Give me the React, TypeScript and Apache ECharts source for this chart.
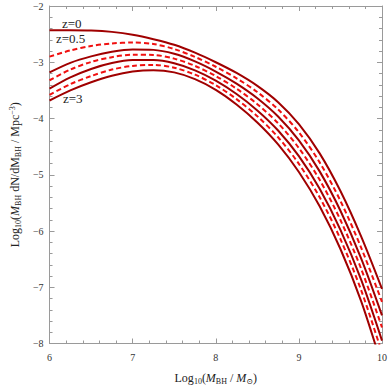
import React, { useEffect, useRef } from "react";
import * as echarts from "echarts";

const xs = [6, 6.25, 6.5, 6.75, 7, 7.25, 7.5, 7.75, 8, 8.25, 8.5, 8.75, 9, 9.25, 9.5, 9.75, 10];

const z0 = [-2.43, -2.43, -2.435, -2.46, -2.51, -2.59, -2.69, -2.83, -3.0, -3.19, -3.42, -3.71, -4.1, -4.62, -5.29, -6.1, -7.03];
const z05 = [-2.9, -2.79, -2.71, -2.665, -2.65, -2.675, -2.765, -2.905, -3.08, -3.285, -3.53, -3.84, -4.245, -4.78, -5.465, -6.3, -7.26];
const z1 = [-3.18, -3.01, -2.895, -2.815, -2.775, -2.78, -2.85, -2.985, -3.165, -3.38, -3.64, -3.965, -4.39, -4.94, -5.64, -6.49, -7.5];
const z15 = [-3.32, -3.13, -2.995, -2.91, -2.865, -2.87, -2.935, -3.065, -3.245, -3.47, -3.745, -4.085, -4.525, -5.09, -5.805, -6.675, -7.715];
const z2 = [-3.47, -3.27, -3.12, -3.015, -2.962, -2.96, -3.018, -3.145, -3.328, -3.565, -3.856, -4.213, -4.67, -5.25, -5.98, -6.87, -7.948];
const z25 = [-3.58, -3.39, -3.245, -3.13, -3.065, -3.047, -3.097, -3.22, -3.407, -3.655, -3.96, -4.333, -4.806, -5.4, -6.145, -7.055, -8.167];
const z3 = [-3.68, -3.5, -3.355, -3.24, -3.165, -3.14, -3.18, -3.3, -3.49, -3.75, -4.07, -4.46, -4.95, -5.56, -6.32, -7.25, -8.4];

const curves = [
  { name: "z=0", ys: z0, dashed: false },
  { name: "z=0.5", ys: z05, dashed: true },
  { name: "z=1", ys: z1, dashed: false },
  { name: "z=1.5", ys: z15, dashed: true },
  { name: "z=2", ys: z2, dashed: false },
  { name: "z=2.5", ys: z25, dashed: true },
  { name: "z=3", ys: z3, dashed: false },
];

const xTicks = [6, 7, 8, 9, 10];
const yTicks = [-8, -7, -6, -5, -4, -3, -2];

const SERIF = "'Liberation Serif', 'DejaVu Serif', serif";
const AXIS_GRAY = "#9a9a9a";

const richStyles = {
  n: { fontFamily: SERIF, fontSize: 12, color: "#222", lineHeight: 17, verticalAlign: "middle" },
  i: { fontFamily: SERIF, fontSize: 12, color: "#222", fontStyle: "italic", lineHeight: 17, verticalAlign: "middle" },
  s: { fontFamily: SERIF, fontSize: 8, color: "#222", padding: [6, 0, 0, 0], verticalAlign: "middle" },
  p: { fontFamily: SERIF, fontSize: 8, color: "#222", padding: [0, 0, 6, 0], verticalAlign: "middle" },
};

const fmt = (v: number) => String(v).replace("-", "\u2212");

export default function App() {
  const ref = useRef<HTMLDivElement>(null);
  useEffect(() => {
    if (!ref.current) return;
    const chart = echarts.init(ref.current, undefined, { renderer: "svg" });
    const axisCommon = {
      type: "value" as const,
      axisLine: { show: true, lineStyle: { color: AXIS_GRAY, width: 1 } },
      axisTick: { show: true, inside: true, length: 5, lineStyle: { color: AXIS_GRAY } },
      minorTick: { show: true, splitNumber: 5, length: 3, lineStyle: { color: AXIS_GRAY } },
      splitLine: { show: false },
    };
    chart.setOption({
      animation: false,
      backgroundColor: "#ffffff",
      grid: { left: 38, right: 7, top: 6, bottom: 39 },
      xAxis: [
        {
          ...axisCommon,
          position: "bottom",
          min: xTicks[0],
          max: xTicks[xTicks.length - 1],
          interval: 1,
          axisLabel: { fontFamily: SERIF, fontSize: 10, color: "#333", margin: 9, formatter: fmt },
          name: "{n|Log}{s|10}{n|(}{i|M}{s|BH}{n| / }{i|M}{s|\u2299}{n|)}",
          nameLocation: "middle",
          nameGap: 26,
          nameTextStyle: { rich: richStyles },
        },
        {
          ...axisCommon,
          position: "top",
          min: xTicks[0],
          max: xTicks[xTicks.length - 1],
          interval: 1,
          axisLabel: { show: false },
        },
      ],
      yAxis: [
        {
          ...axisCommon,
          position: "left",
          min: yTicks[0],
          max: yTicks[yTicks.length - 1],
          interval: 1,
          axisLabel: { fontFamily: SERIF, fontSize: 10, color: "#333", margin: 6, formatter: fmt },
          name: "{n|Log}{s|10}{n|(}{i|M}{s|BH}{n| dN/dM}{s|BH}{n| / Mpc}{p|\u22123}{n|)}",
          nameLocation: "middle",
          nameGap: 23,
          nameRotate: 90,
          nameTextStyle: { rich: richStyles },
        },
        {
          ...axisCommon,
          position: "right",
          min: yTicks[0],
          max: yTicks[yTicks.length - 1],
          interval: 1,
          axisLabel: { show: false },
        },
      ],
      series: curves.map((c) => ({
        name: c.name,
        type: "line",
        xAxisIndex: 0,
        yAxisIndex: 0,
        smooth: 0.3,
        showSymbol: false,
        symbol: "none",
        clip: true,
        data: xs.map((x, k) => [x, c.ys[k]]),
        lineStyle: c.dashed
          ? { color: "#f01010", width: 2, type: [5, 3] }
          : { color: "#a00000", width: 2, type: "solid" },
      })),
      graphic: [
        { type: "text", left: 62, top: 17, style: { text: "z=0", font: "13px " + SERIF, fill: "#222" } },
        { type: "text", left: 56, top: 32, style: { text: "z=0.5", font: "13px " + SERIF, fill: "#222" } },
        { type: "text", left: 63, top: 92, style: { text: "z=3", font: "13px " + SERIF, fill: "#222" } },
      ],
    });
    return () => chart.dispose();
  }, []);
  return <div ref={ref} style={{ width: 390, height: 390, position: "absolute", left: 0, top: 0 }} />;
}
